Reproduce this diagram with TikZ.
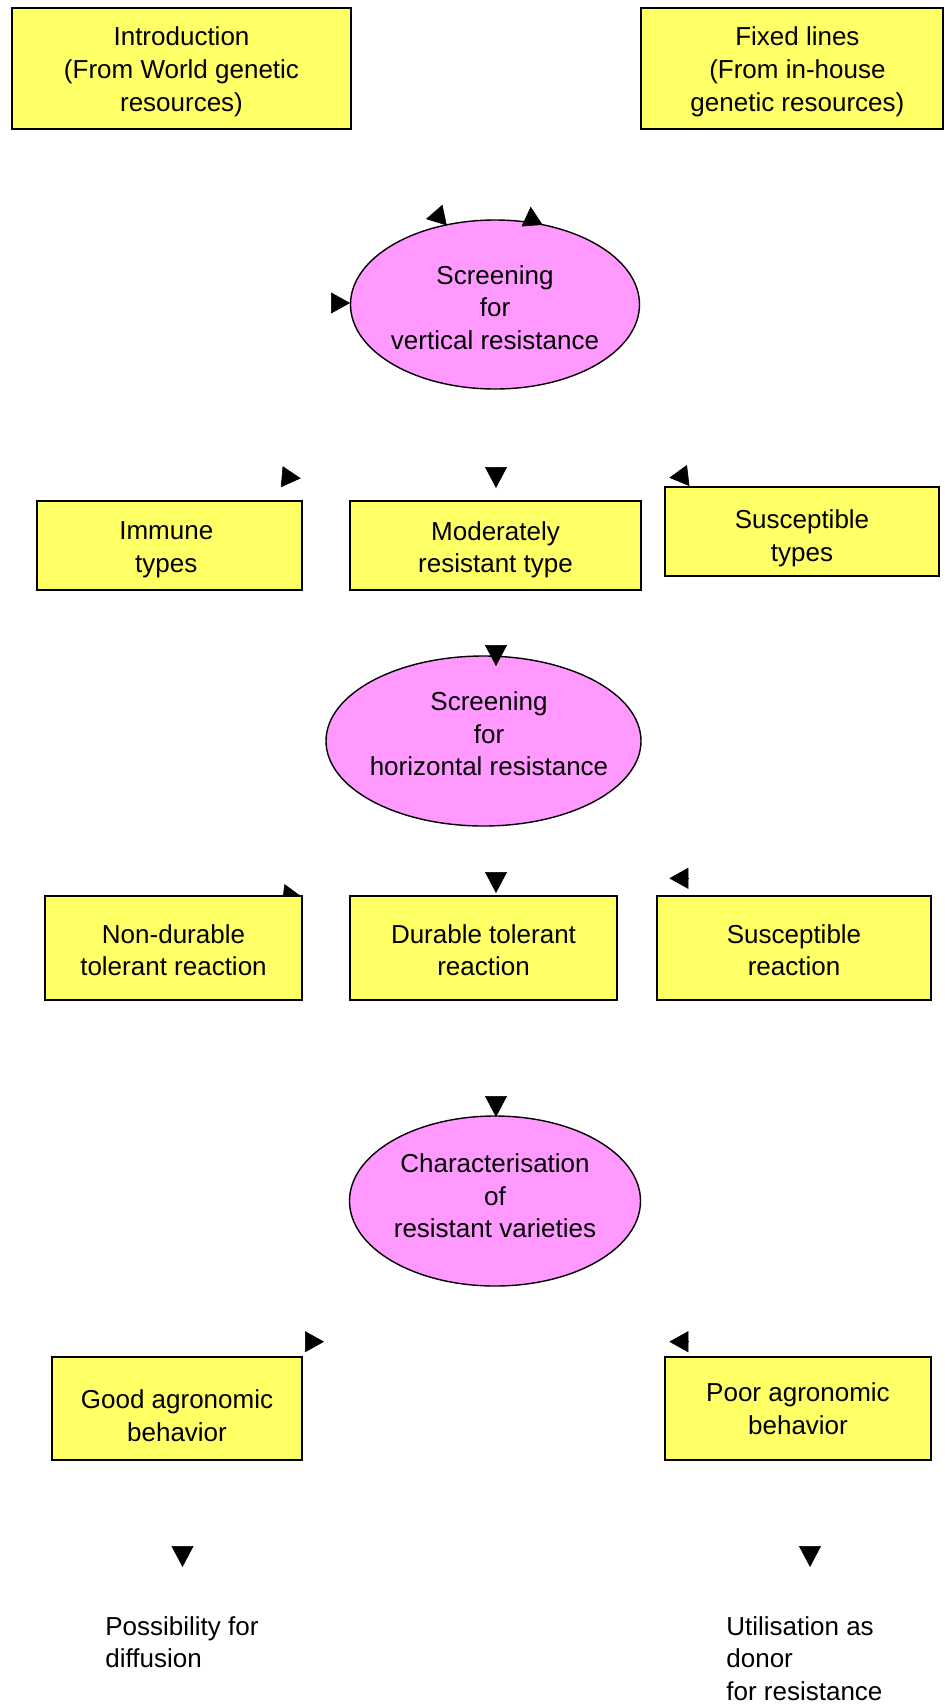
\documentclass[tikz,border=0pt]{standalone}
\usepackage{fontspec}
\setmainfont{Liberation Sans}
\usetikzlibrary{shapes.geometric,arrows.meta}
\definecolor{boxyellow}{RGB}{255,255,102}
\definecolor{ovalpink}{RGB}{255,153,255}
\begin{document}
\begin{tikzpicture}[x=0.5pt,y=-0.5pt,
  every node/.style={font=\fontsize{13}{16.3}\selectfont, align=center, inner sep=0pt},
  box/.style={draw=black, line width=0.7pt, fill=boxyellow, rectangle},
  oval/.style={draw=black, line width=0.7pt, fill=ovalpink, ellipse},
  head/.style={-{Triangle[length=9.5pt,width=10.5pt]}, line width=0.3pt, black},
  downhead/.style={-{Triangle[length=10.5pt,width=11pt]}, line width=0.3pt, black},
  plain/.style={align=left, anchor=north west}]
\useasboundingbox (0,0) rectangle (944,1704);

% arrowhead coordinates (tail, tip)
\coordinate (a1s) at (444.6,215.1); \coordinate (a1e) at (426,219);
\coordinate (a2s) at (532.1,225.6); \coordinate (a2e) at (530.7,206.7);
\coordinate (a3s) at (331,303);     \coordinate (a3e) at (350,303);
\coordinate (a4s) at (281.8,476.7); \coordinate (a4e) at (300.7,478.3);
\coordinate (a5s) at (496,467);     \coordinate (a5e) at (496,488);
\coordinate (a6s) at (688.2,475.5); \coordinate (a6e) at (669.3,477.7);
\coordinate (a7s) at (496,645);     \coordinate (a7e) at (496,666);
\coordinate (a8s) at (283.2,894.6); \coordinate (a8e) at (302,897);
\coordinate (a9s) at (496,872);     \coordinate (a9e) at (496,893);
\coordinate (a10s) at (688.3,878.3); \coordinate (a10e) at (669.3,878.3);
\coordinate (a11s) at (496,1096);   \coordinate (a11e) at (496,1117);
\coordinate (a12s) at (305,1341.7); \coordinate (a12e) at (324,1341.7);
\coordinate (a13s) at (688.3,1341.7); \coordinate (a13e) at (669.3,1341.7);
\coordinate (a14s) at (182.5,1546); \coordinate (a14e) at (182.5,1567);
\coordinate (a15s) at (810,1546);   \coordinate (a15e) at (810,1567);

% arrowhead partly hidden under the box
\draw[head] (a8s) -- (a8e);

% boxes
\node[box, minimum width=169.5pt, minimum height=60.5pt,
  label={[yshift=-1.6pt]center:Introduction\\(From World genetic\\resources)}] (intro) at (181.5,68.5) {};
\node[box, minimum width=151pt, minimum height=60.5pt,
  label={[xshift=2.7pt,yshift=-1.6pt]center:Fixed lines\\(From in-house\\genetic resources)}] (fixed) at (792,68.5) {};
\node[box, minimum width=132.5pt, minimum height=44.5pt,
  label={[xshift=-1.6pt,yshift=-2.2pt]center:Immune\\types}] (immune) at (169.5,545.5) {};
\node[box, minimum width=145.5pt, minimum height=44.5pt,
  label={[yshift=-2.2pt]center:Moderately\\resistant type}] (moder) at (495.5,545.5) {};
\node[box, minimum width=137pt, minimum height=44.5pt,
  label={[yshift=-3.3pt]center:Susceptible\\types}] (susc1) at (802,531.5) {};
\node[box, minimum width=128.5pt, minimum height=52pt,
  label={[yshift=-1.1pt]center:Non-durable\\tolerant reaction}] (nondur) at (173.5,948) {};
\node[box, minimum width=133.5pt, minimum height=52pt,
  label={[yshift=-1.1pt]center:Durable tolerant\\reaction}] (durable) at (483.5,948) {};
\node[box, minimum width=137pt, minimum height=52pt,
  label={[yshift=-1.1pt]center:Susceptible\\reaction}] (susc2) at (794,948) {};
\node[box, minimum width=125pt, minimum height=51.5pt,
  label={[yshift=-3.5pt]center:Good agronomic\\behavior}] (good) at (177,1408.5) {};
\node[box, minimum width=133pt, minimum height=51.5pt,
  label={center:Poor agronomic\\behavior}] (poor) at (798,1408.5) {};

% ovals
\node[oval, minimum width=144.5pt, minimum height=84.5pt,
  label={[yshift=-1.5pt]center:Screening\\for\\vertical resistance}] (scrV) at (495,304.5) {};
\node[oval, minimum width=157.5pt, minimum height=85pt,
  label={[xshift=2.75pt,yshift=3.5pt]center:Screening\\for\\horizontal resistance}] (scrH) at (483.5,741) {};
\node[oval, minimum width=145.5pt, minimum height=85pt,
  label={[yshift=2.5pt]center:Characterisation\\of\\resistant varieties}] (charac) at (495,1201) {};

% plain texts
\node[plain] (diff) at (105,1616) {Possibility for\\diffusion};
\node[plain] (donor) at (726,1616) {Utilisation as\\donor\\for resistance};

% arrowheads
\draw[head] (a1s) -- (a1e);
\draw[head] (a2s) -- (a2e);
\draw[head] (a3s) -- (a3e);
\draw[head] (a4s) -- (a4e);
\draw[downhead] (a5s) -- (a5e);
\draw[head] (a6s) -- (a6e);
\draw[downhead] (a7s) -- (a7e);
\draw[downhead] (a9s) -- (a9e);
\draw[head] (a10s) -- (a10e);
\draw[downhead] (a11s) -- (a11e);
\draw[head] (a12s) -- (a12e);
\draw[head] (a13s) -- (a13e);
\draw[downhead] (a14s) -- (a14e);
\draw[downhead] (a15s) -- (a15e);
\end{tikzpicture}
\end{document}
